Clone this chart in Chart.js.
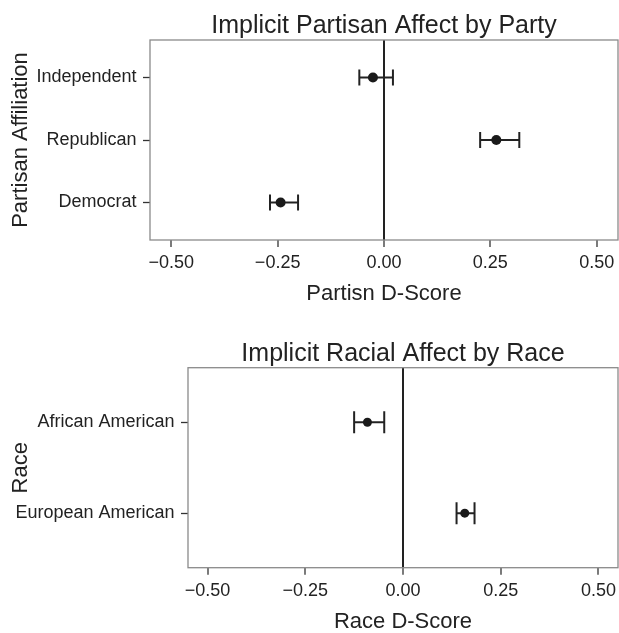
<!DOCTYPE html>
<html>
<head>
<meta charset="utf-8">
<script src="https://cdn.jsdelivr.net/npm/chart.js@4.4.0/dist/chart.umd.min.js"></script>
<style>
  html, body { margin: 0; padding: 0; background: #fff; overflow: hidden; }
  canvas { display: block; }
</style>
</head>
<body>
<canvas id="party" width="619" height="310"></canvas>
<canvas id="race" width="619" height="323"></canvas>
<script>
const xTicks = [-0.5, -0.25, 0, 0.25, 0.5];

// bottom to top, like ggplot's discrete axis
const partyLabels = ["Democrat", "Republican", "Independent"];
const partyMeans = [-0.243, 0.264, -0.026];
const partyLower = [-0.268, 0.226, -0.058];
const partyUpper = [-0.202, 0.318, 0.021];

const raceLabels = ["European American", "African American"];
const raceMeans = [0.158, -0.091];
const raceLower = [0.137, -0.125];
const raceUpper = [0.183, -0.048];

const ink = "#222";
const font = "'Liberation Sans', Arial, Helvetica, sans-serif";

// grey box round the plotting area
const panelBox = {
  id: "panelBox",
  beforeDatasetsDraw(chart) {
    const { ctx, chartArea: a } = chart;
    ctx.save();
    ctx.strokeStyle = "#8a8a8a";
    ctx.lineWidth = 1.3;
    ctx.strokeRect(a.left, a.top, a.right - a.left, a.bottom - a.top);
    ctx.restore();
  },
};

function makePanel(id, opts) {
  const { labels, means, lower, upper } = opts;

  const bars = labels.map((_, i) => ({
    type: "line",
    data: [{ x: lower[i], y: i + 1 }, { x: upper[i], y: i + 1 }],
    borderColor: ink,
    borderWidth: 2,
    pointStyle: "line",
    rotation: 90,
    pointRadius: opts.capRadius,
    pointBorderWidth: 2,
    pointBorderColor: ink,
  }));

  return new Chart(document.getElementById(id), {
    type: "scatter",
    data: {
      datasets: [
        {
          data: means.map((m, i) => ({ x: m, y: i + 1 })),
          pointRadius: opts.dotRadius,
          backgroundColor: "#1a1a1a",
          borderColor: "#1a1a1a",
          borderWidth: 0,
        },
        ...bars,
      ],
    },
    options: {
      responsive: false,
      animation: false,
      events: [],
      layout: { autoPadding: false, padding: { left: 0, right: 1, top: 0, bottom: 0 } },
      plugins: {
        legend: { display: false },
        tooltip: { enabled: false },
        title: {
          display: true,
          fullSize: false,
          text: opts.title,
          color: ink,
          font: { family: font, size: 25, weight: "normal", lineHeight: 1 },
          padding: { top: opts.titleTop, bottom: opts.titleBottom },
        },
      },
      scales: {
        x: {
          type: "linear",
          min: -0.55,
          max: 0.55,
          afterBuildTicks: (s) => {
            s.ticks = xTicks.map((v) => ({ value: v }));
          },
          afterFit: (s) => {
            s.height = opts.xHeight;
            s.paddingLeft = 0;
            s.paddingRight = 0;
          },
          ticks: {
            color: ink,
            font: { family: font, size: 18 },
            padding: 5.5,
            maxRotation: 0,
            callback: (v) => (v < 0 ? "\u2212" : "") + Math.abs(v).toFixed(2),
          },
          grid: {
            color: (c) => (c.tick && c.tick.value === 0 ? ink : "rgba(0,0,0,0)"),
            lineWidth: 2,
            tickColor: "#333",
            tickWidth: 1.3,
            tickLength: 7,
          },
          border: { display: false },
          title: {
            display: true,
            text: opts.xTitle,
            color: ink,
            font: { family: font, size: 22, lineHeight: 1 },
            padding: { top: 0, bottom: opts.xTitleBottom },
          },
        },
        y: {
          type: "linear",
          min: 0.4,
          max: labels.length + 0.6,
          afterBuildTicks: (s) => {
            s.ticks = labels.map((_, i) => ({ value: i + 1 }));
          },
          afterFit: (s) => {
            s.width = opts.yWidth;
            s.paddingTop = 0;
            s.paddingBottom = 0;
          },
          ticks: {
            color: ink,
            font: { family: font, size: 18 },
            padding: 6.5,
            callback: (v) => labels[v - 1],
          },
          grid: { drawOnChartArea: false, tickColor: "#333", tickWidth: 1.3, tickLength: 7 },
          border: { display: false },
          title: {
            display: true,
            text: opts.yTitle,
            color: ink,
            font: { family: font, size: 22, lineHeight: 1 },
            padding: { top: 10, bottom: 0 },
          },
        },
      },
    },
    plugins: [panelBox],
  });
}

makePanel("party", {
  labels: partyLabels,
  means: partyMeans,
  lower: partyLower,
  upper: partyUpper,
  title: "Implicit Partisan Affect by Party",
  xTitle: "Partisn D-Score",
  yTitle: "Partisan Affiliation",
  titleTop: 13.8,
  titleBottom: 1.2,
  xHeight: 70,
  xTitleBottom: 5,
  yWidth: 150,
  dotRadius: 5,
  capRadius: 8,
});

makePanel("race", {
  labels: raceLabels,
  means: raceMeans,
  lower: raceLower,
  upper: raceUpper,
  title: "Implicit Racial Affect by Race",
  xTitle: "Race D-Score",
  yTitle: "Race",
  titleTop: 31.2,
  titleBottom: 1.5,
  xHeight: 65.3,
  xTitleBottom: 0.2,
  yWidth: 188,
  dotRadius: 4.5,
  capRadius: 11,
});
</script>
</body>
</html>
